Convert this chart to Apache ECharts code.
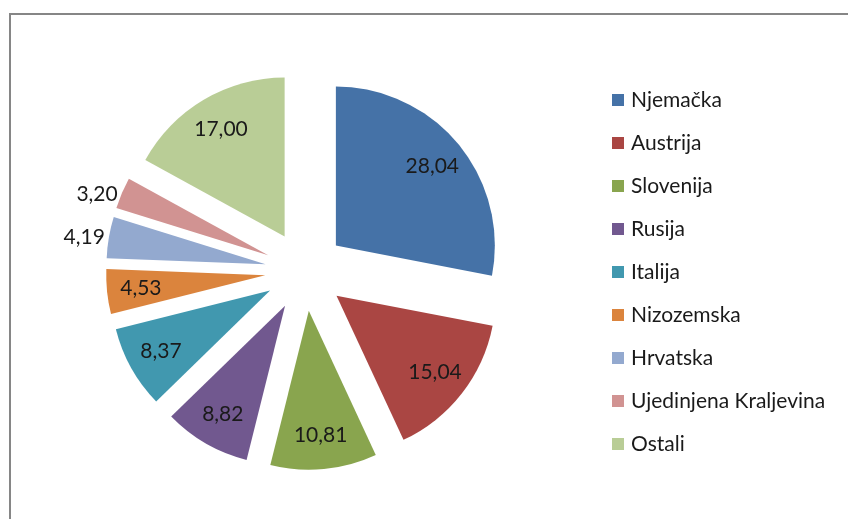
<!DOCTYPE html>
<html>
<head>
<meta charset="utf-8">
<script src="https://cdn.jsdelivr.net/npm/echarts@6/dist/echarts.min.js"></script>
<style>
  html, body { margin: 0; padding: 0; background: #ffffff; }
  #chart { width: 848px; height: 519px; }
</style>
</head>
<body>
<div id="chart"></div>
<script>
// Shares by country (%)
const countries = ['Njemačka', 'Austrija', 'Slovenija', 'Rusija', 'Italija', 'Nizozemska', 'Hrvatska', 'Ujedinjena Kraljevina', 'Ostali'];
const shares = [28.04, 15.04, 10.81, 8.82, 8.37, 4.53, 4.19, 3.20, 17.00];
const colors = ['#4572A7', '#AA4643', '#89A54E', '#71588F', '#4198AF', '#DB843D', '#93A9CF', '#D19392', '#B9CD96'];

// Thin slices get their value printed outside the slice
const outsideLabelNames = ['Hrvatska', 'Ujedinjena Kraljevina'];

const FONT = 'Lato, "Open Sans", sans-serif';
const CENTER = [305, 271];
const RADIUS = 159;
const EXPLODE = 40;

const fmt = v => v.toFixed(2).replace('.', ',');

const sliceData = countries.map((name, i) => ({
  name,
  value: shares[i],
  selected: true,
  itemStyle: { color: colors[i] }
}));

const labelData = countries.map((name, i) => {
  const outside = outsideLabelNames.includes(name);
  return {
    name,
    value: shares[i],
    selected: true,
    label: outside
      ? { position: 'outside', padding: [10, 0, 0, 0] }
      : { position: 'inside', padding: [6, 0, 0, 0] }
  };
});

const chart = echarts.init(document.getElementById('chart'), null, { renderer: 'canvas' });

chart.setOption({
  animation: false,
  backgroundColor: '#ffffff',
  graphic: [{
    type: 'rect',
    silent: true,
    shape: { x: 10, y: 14, width: 900, height: 600 },
    style: { fill: 'none', stroke: '#868686', lineWidth: 2 }
  }],
  legend: {
    orient: 'vertical',
    left: 612,
    top: 89,
    padding: 0,
    icon: 'rect',
    itemWidth: 12,
    itemHeight: 12,
    itemGap: 21,
    selectedMode: false,
    data: countries,
    textStyle: { fontFamily: FONT, fontSize: 21, color: '#1a1a1a', lineHeight: 22, padding: [0, 0, 0, 2] }
  },
  series: [
    {
      // visible exploded slices
      type: 'pie',
      center: CENTER,
      radius: RADIUS,
      startAngle: 90,
      clockwise: true,
      selectedMode: 'multiple',
      selectedOffset: EXPLODE,
      silent: true,
      label: { show: false },
      labelLine: { show: false },
      itemStyle: { borderWidth: 0 },
      data: sliceData
    },
    {
      // invisible ring carrying the value labels
      type: 'pie',
      center: CENTER,
      radius: [88, 156],
      startAngle: 90,
      clockwise: true,
      selectedMode: 'multiple',
      selectedOffset: EXPLODE,
      silent: true,
      avoidLabelOverlap: false,
      itemStyle: { color: 'rgba(0,0,0,0)', borderWidth: 0 },
      label: {
        show: true,
        fontFamily: FONT,
        fontSize: 21,
        color: '#1a1a1a',
        formatter: p => fmt(p.value)
      },
      labelLine: { show: false, length: 1, length2: 1 },
      data: labelData
    }
  ]
});
</script>
</body>
</html>
